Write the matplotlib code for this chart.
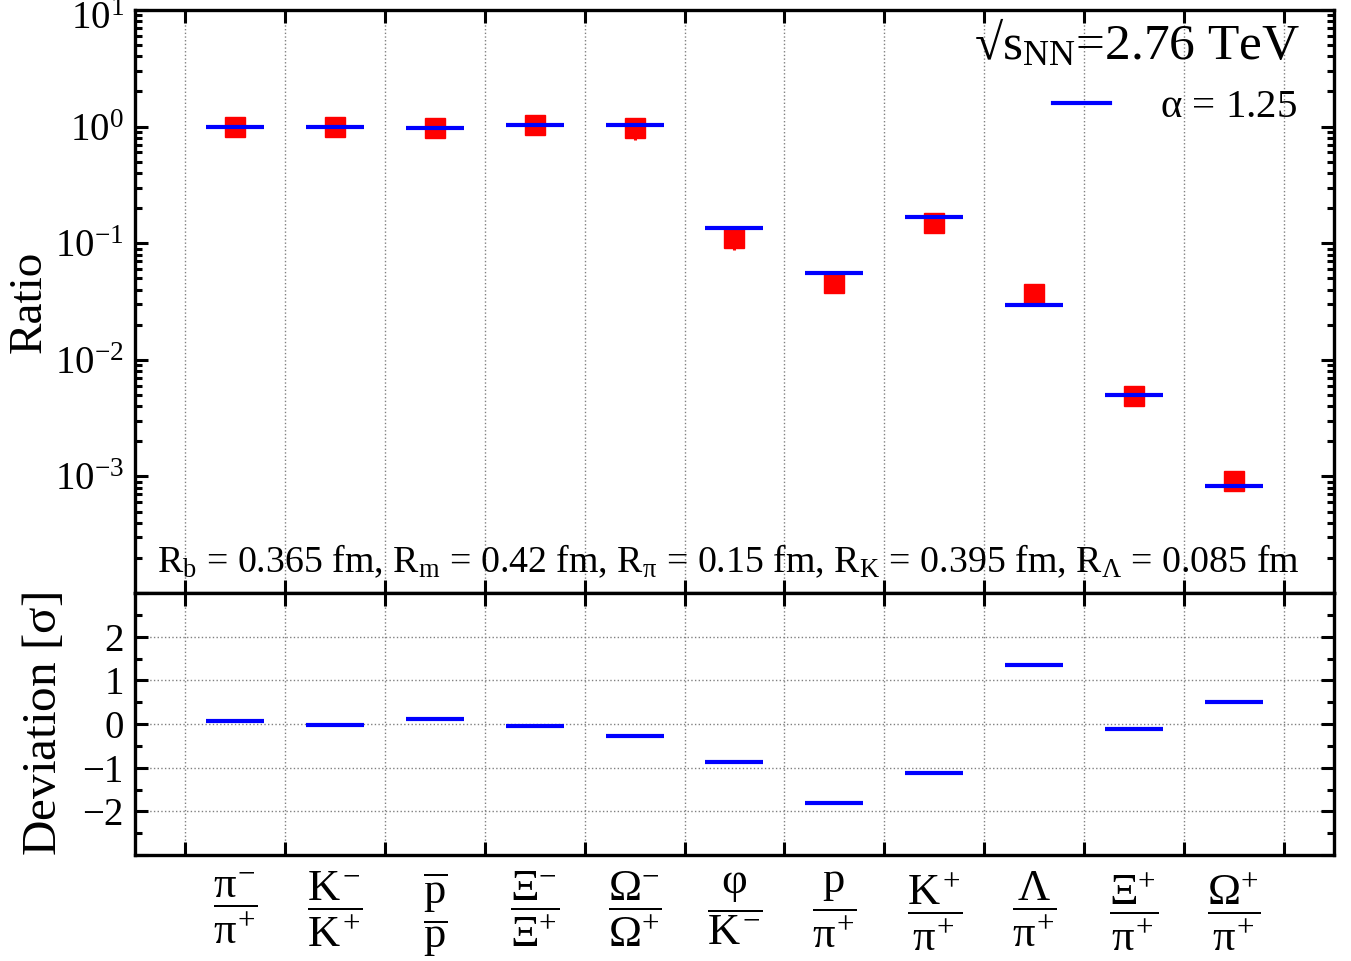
import numpy as np
import matplotlib
matplotlib.use('Agg')
import matplotlib.pyplot as plt
from matplotlib.ticker import FixedLocator, LogLocator, MultipleLocator, NullFormatter, FuncFormatter
from matplotlib.lines import Line2D

plt.rcParams['font.family'] = ['Liberation Serif', 'DejaVu Serif']
plt.rcParams['mathtext.fontset'] = 'custom'
plt.rcParams['mathtext.rm'] = 'Liberation Serif'
plt.rcParams['mathtext.it'] = 'Liberation Serif'
plt.rcParams['mathtext.bf'] = 'Liberation Serif:bold'

# particle ratios
labels = [r'$\dfrac{\pi^{-}}{\pi^{+}}$', r'$\dfrac{K^{-}}{K^{+}}$', r'$\dfrac{\overline{p}}{p}$',
          r'$\dfrac{\Xi^{-}}{\Xi^{+}}$', r'$\dfrac{\Omega^{-}}{\Omega^{+}}$', r'$\dfrac{\varphi}{K^{-}}$',
          r'$\dfrac{p}{\pi^{+}}$', r'$\dfrac{K^{+}}{\pi^{+}}$', r'$\dfrac{\Lambda}{\pi^{+}}$',
          r'$\dfrac{\Xi^{+}}{\pi^{+}}$', r'$\dfrac{\Omega^{+}}{\pi^{+}}$']

model = [1.0, 1.0, 0.98, 1.03, 1.04, 0.135, 0.0558, 0.169, 0.0298, 0.00501, 0.000824]
data = [1.0, 1.0, 0.98, 1.03, 0.975, 0.110, 0.0452, 0.149, 0.037, 0.00491, 0.000906]
err_lo = [0.03, 0.03, 0.03, 0.05, 0.21, 0.022, 0.004, 0.012, 0.003, 0.0004, 0.00008]
err_hi = [0.03, 0.03, 0.03, 0.05, 0.22, 0.027, 0.004, 0.012, 0.003, 0.0004, 0.00008]
deviation = [0.08, -0.02, 0.11, -0.05, -0.27, -0.87, -1.81, -1.12, 1.36, -0.12, 0.51]

x = np.arange(len(labels))
half = 0.29

fig = plt.figure(figsize=(13.51, 9.61), dpi=100)
ax1 = fig.add_axes([0.0999, 0.3829, 0.8875, 0.6067])
ax2 = fig.add_axes([0.0999, 0.1103, 0.8875, 0.2726])

for ax in (ax1, ax2):
    ax.set_xlim(-1, len(labels))
    ax.xaxis.set_major_locator(FixedLocator(np.arange(-0.5, len(labels), 1.0)))
    ax.xaxis.set_major_formatter(NullFormatter())
    ax.grid(True, axis='x', color='gray', linestyle=':', linewidth=1.0)
    for s in ax.spines.values():
        s.set_linewidth(2.4)
    ax.tick_params(which='major', direction='in', length=9.5, width=2.2, top=True, right=True,
                   labelsize=28, pad=8)
    ax.tick_params(which='minor', direction='in', length=5, width=2.2, top=False, right=True)
    ax.set_axisbelow(True)

# top panel: ratios
ax1.set_yscale('log')
ax1.set_ylim(1e-4, 1e1)
ax1.yaxis.set_major_locator(FixedLocator([1e-3, 1e-2, 1e-1, 1e0, 1e1]))
ax1.yaxis.set_major_formatter(FuncFormatter(
    lambda v, p: '' if v > 5 else r'$\mathdefault{10^{%d}}$' % round(np.log10(v))))
ax1.yaxis.set_minor_locator(LogLocator(base=10, subs=np.arange(2, 10), numticks=20))
ax1.yaxis.set_minor_formatter(NullFormatter())
ax1.xaxis.set_minor_locator(FixedLocator([]))
# top label moved down a little so it stays inside the figure
ax1.annotate(r'$\mathdefault{10^{1}}$', xy=(0, 10), xycoords=ax1.get_yaxis_transform(),
             xytext=(-8, -7), textcoords='offset points', ha='right', va='center', fontsize=28)

ax1.errorbar(x, data, yerr=[err_lo, err_hi], fmt='s', color='red', ms=14.5,
             elinewidth=2.2, capsize=0, mec='red', zorder=3)
ax1.hlines(model, x - half, x + half, color='blue', linewidth=3, zorder=4)
ax1.set_ylabel('Ratio', fontsize=34, labelpad=3)

ax1.text(0.9716, 0.916, '\u221as$_{\\mathrm{NN}}$=2.76 TeV', transform=ax1.transAxes,
         ha='right', va='baseline', fontsize=37)
leg = ax1.legend(handles=[Line2D([], [], color='blue', lw=3)], labels=[r'$\alpha$ = 1.25'],
                 loc='center right', bbox_to_anchor=(0.969, 0.833), frameon=False, fontsize=29.5,
                 handlelength=1.4, handletextpad=1.2, borderaxespad=0, borderpad=0)
ax1.text(0.495, 0.035, r'R$_\mathrm{b}$ = 0.365 fm, R$_\mathrm{m}$ = 0.42 fm, R$_\pi$ = 0.15 fm, '
         r'R$_\mathrm{K}$ = 0.395 fm, R$_\Lambda$ = 0.085 fm',
         transform=ax1.transAxes, ha='center', va='baseline', fontsize=27.3)

# bottom panel: deviation
ax2.set_ylim(-3, 3)
ax2.yaxis.set_major_locator(MultipleLocator(1))
ax2.yaxis.set_minor_locator(MultipleLocator(0.5))
ax2.grid(True, axis='y', which='major', color='gray', linestyle=':', linewidth=1.0)
ax2.hlines(deviation, x - half, x + half, color='blue', linewidth=3, zorder=4)
ax2.set_ylabel(r'Deviation [$\sigma$]', fontsize=35.5, labelpad=12)
ax2.yaxis.set_major_formatter(FuncFormatter(
    lambda v, p: '' if abs(v) > 2.5 else ('\u2212%d' % -v if v < 0 else '%d' % v)))

ax2.xaxis.set_minor_locator(FixedLocator(x))
ax2.set_xticklabels(labels, minor=True)
ax2.tick_params(axis='x', which='minor', length=0, labelsize=32, pad=11, top=False)

fig.savefig('out.png', dpi=100)
